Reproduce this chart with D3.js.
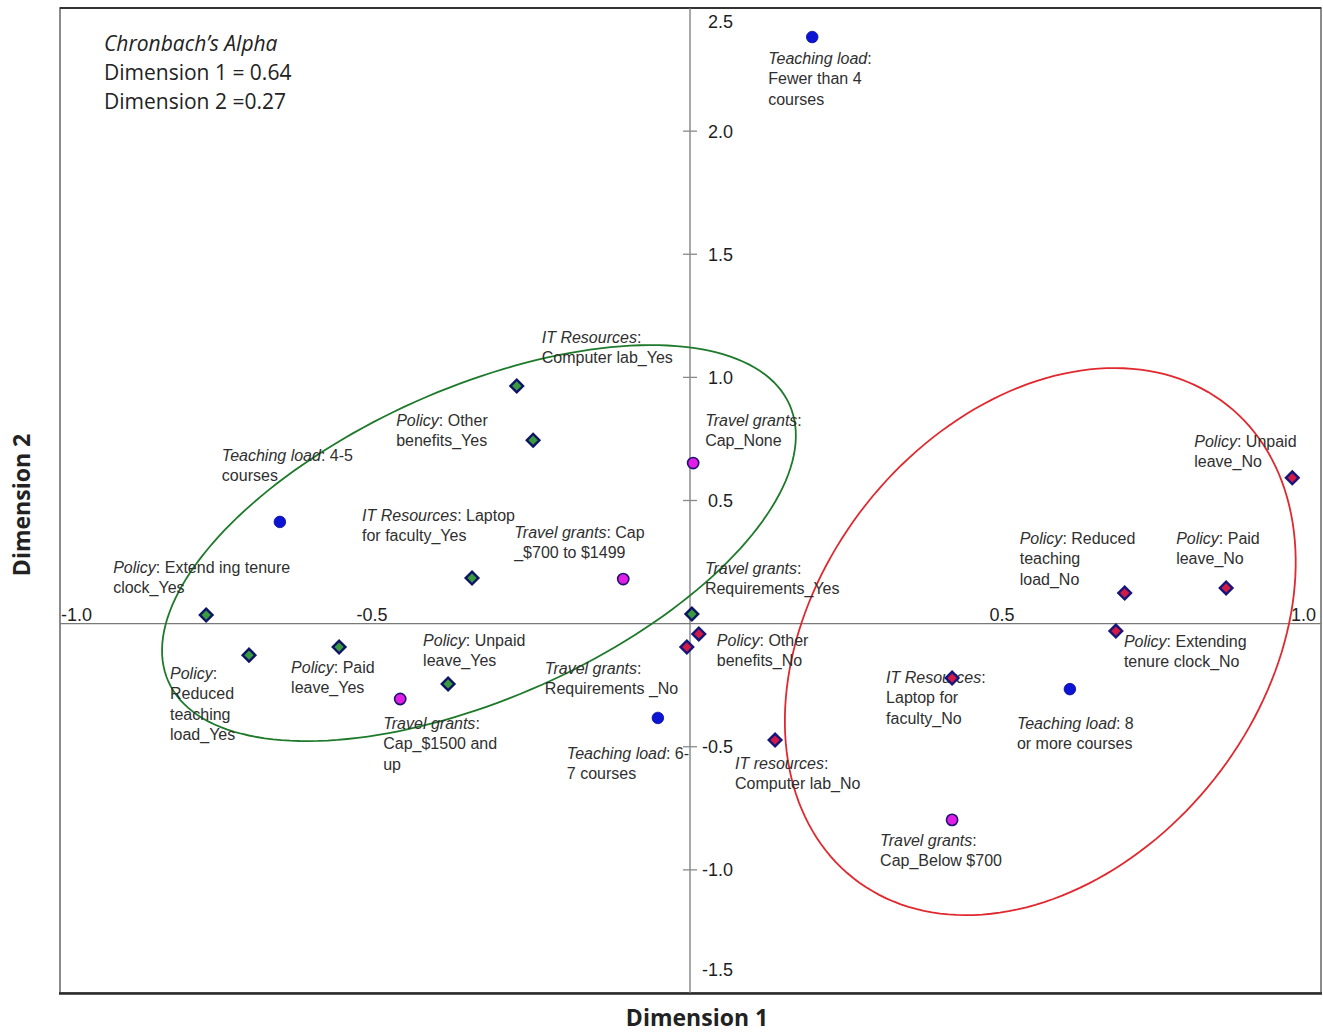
<!DOCTYPE html>
<html>
<head>
<meta charset="utf-8">
<script src="https://cdn.jsdelivr.net/npm/d3@7"></script>
<style>
  html, body { margin: 0; padding: 0; background: #fff; }
  svg { display: block; }
</style>
</head>
<body>
<svg id="chart" width="1323" height="1032"></svg>
<script>
// ---------------- DATA ----------------
const pointNames = [
  "Teaching load: Fewer than 4 courses", "Teaching load: 4-5 courses", "Teaching load: 6-7 courses", "Teaching load: 8 or more courses",
  "Travel grants: Cap_None", "Travel grants: Cap_$700 to $1499", "Travel grants: Cap_$1500 and up", "Travel grants: Cap_Below $700",
  "IT Resources: Computer lab_Yes", "Policy: Other benefits_Yes", "IT Resources: Laptop for faculty_Yes", "Policy: Extending tenure clock_Yes",
  "Policy: Reduced teaching load_Yes", "Policy: Paid leave_Yes", "Policy: Unpaid leave_Yes", "Travel grants: Requirements_Yes",
  "Policy: Other benefits_No", "Travel grants: Requirements_No", "IT resources: Computer lab_No", "IT Resources: Laptop for faculty_No",
  "Policy: Extending tenure clock_No", "Policy: Reduced teaching load_No", "Policy: Paid leave_No", "Policy: Unpaid leave_No"
];
const dimension1 = [0.194, -0.651, -0.051, 0.603, 0.005, -0.106, -0.460, 0.416,
  -0.275, -0.249, -0.346, -0.768, -0.700, -0.557, -0.384, 0.003,
  0.014, -0.005, 0.135, 0.416, 0.676, 0.690, 0.851, 0.956];
const dimension2 = [2.382, 0.413, -0.383, -0.266, 0.652, 0.181, -0.306, -0.797,
  0.965, 0.745, 0.185, 0.035, -0.128, -0.095, -0.245, 0.039,
  -0.042, -0.095, -0.473, -0.221, -0.030, 0.124, 0.145, 0.592];
const markerGroup = ["teach","teach","teach","teach","grant","grant","grant","grant",
  "yes","yes","yes","yes","yes","yes","yes","yes",
  "no","no","no","no","no","no","no","no"];
// label lines: [italic part, regular part]
const labelLines = [
  [["Teaching load", ":"], ["", "Fewer than 4"], ["", "courses"]],
  [["Teaching load", ": 4-5"], ["", "courses"]],
  [["Teaching load", ": 6-"], ["", "7 courses"]],
  [["Teaching load", ": 8"], ["", "or more courses"]],
  [["Travel grants", ":"], ["", "Cap_None"]],
  [["Travel grants", ": Cap"], ["", "_$700 to $1499"]],
  [["Travel grants", ":"], ["", "Cap_$1500 and"], ["", "up"]],
  [["Travel grants", ":"], ["", "Cap_Below $700"]],
  [["IT Resources", ":"], ["", "Computer lab_Yes"]],
  [["Policy", ": Other"], ["", "benefits_Yes"]],
  [["IT Resources", ": Laptop"], ["", "for faculty_Yes"]],
  [["Policy", ": Extend ing tenure"], ["", "clock_Yes"]],
  [["Policy", ":"], ["", "Reduced"], ["", "teaching"], ["", "load_Yes"]],
  [["Policy", ": Paid"], ["", "leave_Yes"]],
  [["Policy", ": Unpaid"], ["", "leave_Yes"]],
  [["Travel grants", ":"], ["", "Requirements_Yes"]],
  [["Policy", ": Other"], ["", "benefits_No"]],
  [["Travel grants", ":"], ["", "Requirements _No"]],
  [["IT resources", ":"], ["", "Computer lab_No"]],
  [["IT Resources", ":"], ["", "Laptop for"], ["", "faculty_No"]],
  [["Policy", ": Extending"], ["", "tenure clock_No"]],
  [["Policy", ": Reduced"], ["", "teaching"], ["", "load_No"]],
  [["Policy", ": Paid"], ["", "leave_No"]],
  [["Policy", ": Unpaid"], ["", "leave_No"]]
];
const xTickValues = [-1.0, -0.5, 0.5, 1.0];
const yTickValues = [2.5, 2.0, 1.5, 1.0, 0.5, -0.5, -1.0, -1.5];
const alphaTitle = "Chronbach\u2019s Alpha";
const alphaLines = ["Dimension 1 = 0.64", "Dimension 2 =0.27"];
// cluster ellipses in data units: centre, major-axis vector, minor-axis vector
const ellipseNames = ["Yes cluster", "No cluster"];
const ellipseCentre = [[-0.335, 0.327], [0.556, -0.073]];
const ellipseU = [[0.493, 0.562], [0.297, 0.960]];
const ellipseV = [[0.100, -0.575], [0.276, -0.559]];

// ---------------- LAYOUT ----------------
const svg = d3.select("#chart");
const plotLeft = 60, plotRight = 1321, plotTop = 8, plotBottom = 993;
const x = d3.scaleLinear().domain([-1, 1]).range([plotLeft, 1320]);
const y = d3.scaleLinear().domain([-1.5, 2.5]).range([plotBottom, plotTop]);
const fmt = v => v.toFixed(1);

// label offsets (px) relative to each point: [dx to text start, dy to first line centre]
const labelOffset = [
  [-44, 21], [-58, -67], [-91, 35], [-53, 34],
  [12, -43], [-109, -47], [-17, 24], [-72, 20],
  [25, -49], [-137, -20], [-110, -63], [-93, -48],
  [-79, 18], [-48, 20], [-25, -44], [13, -46],
  [18, 6], [-142, 21], [-40, 23], [-66, -1],
  [8, 10], [-105, -55], [-50, -50], [-98, -37]
];

svg.append("rect").attr("width", 1323).attr("height", 1032).attr("fill", "#fff");

// frame
svg.append("rect").attr("x", plotLeft).attr("y", plotTop).attr("width", plotRight - plotLeft).attr("height", plotBottom - plotTop)
  .attr("fill", "none").attr("stroke", "#6e6e6e").attr("stroke-width", 1.6);
svg.append("line").attr("x1", plotLeft).attr("x2", plotRight).attr("y1", plotTop).attr("y2", plotTop)
  .attr("stroke", "#333").attr("stroke-width", 1.8);
svg.append("line").attr("x1", plotLeft - 1).attr("x2", plotRight + 1).attr("y1", plotBottom + 0.5).attr("y2", plotBottom + 0.5)
  .attr("stroke", "#2a2a2a").attr("stroke-width", 2.6);

// zero axes
svg.append("line").attr("x1", plotLeft).attr("x2", plotRight).attr("y1", y(0)).attr("y2", y(0))
  .attr("stroke", "#7a7a7a").attr("stroke-width", 1.3);
svg.append("line").attr("x1", x(0)).attr("x2", x(0)).attr("y1", plotTop).attr("y2", plotBottom)
  .attr("stroke", "#7a7a7a").attr("stroke-width", 1.3);

// y ticks (marks only for interior values)
const tickFont = "'Liberation Sans', Arial, sans-serif";
yTickValues.forEach(v => {
  const interior = v < 2.5 && v > -1.5;
  if (interior) {
    svg.append("line").attr("x1", x(0) - 7).attr("x2", x(0) + 7).attr("y1", y(v)).attr("y2", y(v))
      .attr("stroke", "#8a8a8a").attr("stroke-width", 1.3);
  }
  let cy = y(v);
  if (v === 2.5) cy = y(v) + 14;
  if (v === -1.5) cy = y(v) - 23;
  svg.append("text").attr("x", x(0) + 43).attr("y", cy).attr("dy", "0.36em").attr("text-anchor", "end")
    .attr("font-family", tickFont).attr("font-size", 18).attr("fill", "#1e1e1e")
    .text(fmt(v));
});
xTickValues.forEach(v => {
  const t = svg.append("text").attr("y", y(0) - 3)
    .attr("font-family", tickFont).attr("font-size", 18).attr("fill", "#1e1e1e")
    .text(fmt(v));
  if (v === -1.0) t.attr("x", plotLeft + 1).attr("text-anchor", "start");
  else if (v === 1.0) t.attr("x", plotRight - 5).attr("text-anchor", "end");
  else t.attr("x", x(v) - 3).attr("text-anchor", "middle");
});

// ellipses
const ellipseColors = ["#1e7a2a", "#e0282e"];
const ts = d3.range(0, 361, 2).map(d => d * Math.PI / 180);
const ellLine = d3.line().x(d => x(d[0])).y(d => y(d[1])).curve(d3.curveLinearClosed);
ellipseNames.forEach((nm, i) => {
  const c = ellipseCentre[i], u = ellipseU[i], w = ellipseV[i];
  const pts = ts.map(t => [c[0] + Math.cos(t) * u[0] + Math.sin(t) * w[0],
                           c[1] + Math.cos(t) * u[1] + Math.sin(t) * w[1]]);
  svg.append("path").attr("d", ellLine(pts)).attr("fill", "none")
    .attr("stroke", ellipseColors[i]).attr("stroke-width", 1.8);
});

// labels
const labelFont = "'Liberation Sans', Arial, sans-serif";
const lh = 20.5;
labelLines.forEach((lines, i) => {
  const px = x(dimension1[i]) + labelOffset[i][0];
  const py = y(dimension2[i]) + labelOffset[i][1];
  lines.forEach((ln, j) => {
    const t = svg.append("text").attr("x", px).attr("y", py + j * lh).attr("dy", "0.36em")
      .attr("font-family", labelFont).attr("font-size", 16).attr("fill", "#2f2f2f");
    if (ln[0]) t.append("tspan").attr("font-style", "italic").text(ln[0]);
    if (ln[1]) t.append("tspan").text(ln[1]);
  });
});

// markers
const idx = d3.range(pointNames.length);
const circleIdx = idx.filter(i => markerGroup[i] === "teach" || markerGroup[i] === "grant");
const diamondIdx = idx.filter(i => markerGroup[i] === "yes" || markerGroup[i] === "no");
const fillFor = { teach: "#0a14d2", grant: "#e21ee6", yes: "#3a9a3e", no: "#d21a46" };
const strokeFor = { teach: "#0a0a9a", grant: "#1c1470", yes: "#0d1466", no: "#15157a" };
svg.append("g").selectAll("circle").data(circleIdx).join("circle")
  .attr("cx", i => x(dimension1[i])).attr("cy", i => y(dimension2[i]))
  .attr("r", i => markerGroup[i] === "teach" ? 5.8 : 5.6)
  .attr("fill", i => fillFor[markerGroup[i]])
  .attr("stroke", i => strokeFor[markerGroup[i]])
  .attr("stroke-width", i => markerGroup[i] === "teach" ? 0.8 : 1.6);
const diamond = d3.symbol().type(d3.symbolSquare).size(80);
svg.append("g").selectAll("path").data(diamondIdx).join("path")
  .attr("d", diamond())
  .attr("transform", i => `translate(${x(dimension1[i])},${y(dimension2[i])}) rotate(45)`)
  .attr("fill", i => fillFor[markerGroup[i]])
  .attr("stroke", i => strokeFor[markerGroup[i]])
  .attr("stroke-width", 2.4);

// Cronbach box text
const boxFont = "'Open Sans', 'Noto Sans', sans-serif";
svg.append("text").attr("x", 104).attr("y", 43).attr("dy", "0.36em")
  .attr("font-family", boxFont).attr("font-size", 21).attr("font-style", "italic").attr("fill", "#222")
  .text(alphaTitle);
alphaLines.forEach((s, j) => {
  svg.append("text").attr("x", 104).attr("y", 72 + j * 29).attr("dy", "0.36em")
    .attr("font-family", boxFont).attr("font-size", 21).attr("fill", "#222").text(s);
});

// axis titles
svg.append("text").attr("x", 697).attr("y", 1018).attr("dy", "0.36em").attr("text-anchor", "middle")
  .attr("font-family", boxFont).attr("font-size", 23).attr("font-weight", "bold").attr("fill", "#222")
  .text("Dimension 1");
svg.append("text").attr("transform", "translate(22,505) rotate(-90)").attr("dy", "0.36em")
  .attr("text-anchor", "middle")
  .attr("font-family", boxFont).attr("font-size", 23).attr("font-weight", "bold").attr("fill", "#222")
  .text("Dimension 2");
</script>
</body>
</html>
